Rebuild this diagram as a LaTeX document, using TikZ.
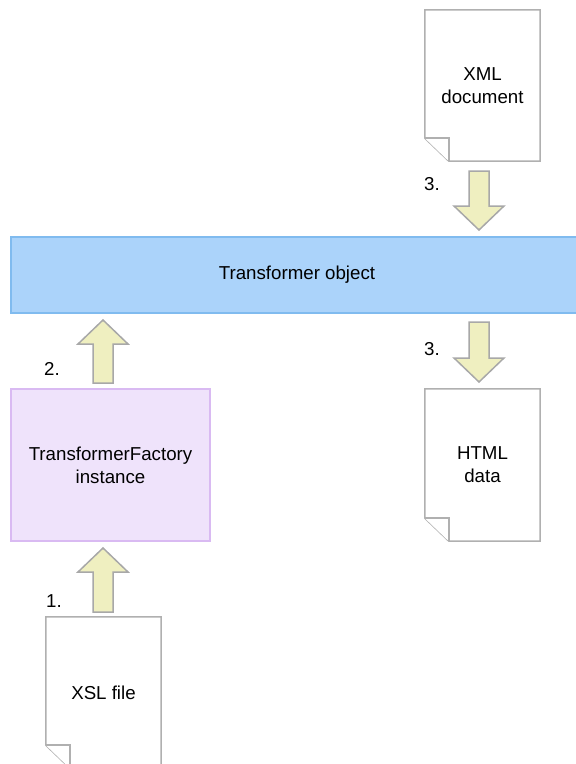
\documentclass[tikz,border=0pt]{standalone}
\usepackage{fontspec}
\setmainfont{Liberation Sans}
\usetikzlibrary{calc}
\definecolor{tobj}{HTML}{ABD3FA}
\definecolor{tobjb}{HTML}{80BBEF}
\definecolor{tfac}{HTML}{EFE3FB}
\definecolor{tfacb}{HTML}{D9BAF2}
\definecolor{arrfill}{HTML}{EFEFC0}
\definecolor{arrb}{HTML}{A8A8A8}
\definecolor{docb}{HTML}{B0B0B0}
\pgfdeclarelayer{bg}
\pgfsetlayers{bg,main}
\newcommand\uparr[2]{%
  \draw[barrow] ($(#1)+(-10,0)$) -- ($(#2)+(-10,24)$) -- ($(#2)+(-25,24)$) -- (#2)
    -- ($(#2)+(25,24)$) -- ($(#2)+(10,24)$) -- ($(#1)+(10,0)$) -- cycle;}
\newcommand\downarr[2]{%
  \draw[barrow] ($(#1)+(-10,0)$) -- ($(#2)+(-10,-24)$) -- ($(#2)+(-25,-24)$) -- (#2)
    -- ($(#2)+(25,-24)$) -- ($(#2)+(10,-24)$) -- ($(#1)+(10,0)$) -- cycle;}
\newcommand\docpage[1]{%
  \begin{pgfonlayer}{bg}
  \draw[docshape] (#1.north west) -- (#1.north east) -- (#1.south east)
    -- ($(#1.south west)+(24,0)$) -- ($(#1.south west)+(0,-23)$) -- cycle;
  \draw[docshape] ($(#1.south west)+(0,-23)$) -- ($(#1.south west)+(24,-23)$) -- ($(#1.south west)+(24,0)$);
  \end{pgfonlayer}}
\begin{document}
\begin{tikzpicture}[x=1pt,y=-1pt,
  font=\fontsize{18.7}{23}\selectfont,
  barrow/.style={fill=arrfill,draw=arrb,line width=1.5pt,line join=miter},
  docshape/.style={fill=white,draw=docb,line width=1.5pt,line join=miter},
  docnode/.style={inner sep=0pt,minimum width=115pt,minimum height=151pt,align=center},
  lbl/.style={anchor=west,inner sep=0pt}]
\useasboundingbox (0,0) rectangle (576,764);
\begin{scope}
\clip (0,0) rectangle (576,764);
% Transformer object
\node[fill=tobj,draw=tobjb,line width=1.5pt,minimum width=572pt,minimum height=76pt,inner sep=0pt] (tobj) at (297,275) {Transformer object};
% TransformerFactory instance
\node[fill=tfac,draw=tfacb,line width=1.5pt,minimum width=199pt,minimum height=152pt,inner sep=0pt,align=center] (tfac) at (110.5,465) {TransformerFactory\\instance};
% documents
\node[docnode] (xml) at (482.5,85.5) {XML\\document};
\docpage{xml}
\node[docnode,minimum height=152pt] (html) at (482.5,465) {HTML\\data};
\docpage{html}
\node[docnode] (xsl) at (103.5,692.5) {XSL file};
\docpage{xsl}
% arrows
\coordinate (a1s) at (103,612);
\coordinate (a1t) at (103,548);
\coordinate (a2s) at (103,383);
\coordinate (a2t) at (103,320);
\coordinate (a3s) at (479,171);
\coordinate (a3t) at (479,230);
\coordinate (a4s) at (479,322);
\coordinate (a4t) at (479,382);
\uparr{a1s}{a1t}
\uparr{a2s}{a2t}
\downarr{a3s}{a3t}
\downarr{a4s}{a4t}
% labels
\node[lbl] (l1) at (46,601) {1.};
\node[lbl] (l2) at (44,369) {2.};
\node[lbl] (l3a) at (424,184) {3.};
\node[lbl] (l3b) at (424,349) {3.};
\end{scope}
\end{tikzpicture}
\end{document}
